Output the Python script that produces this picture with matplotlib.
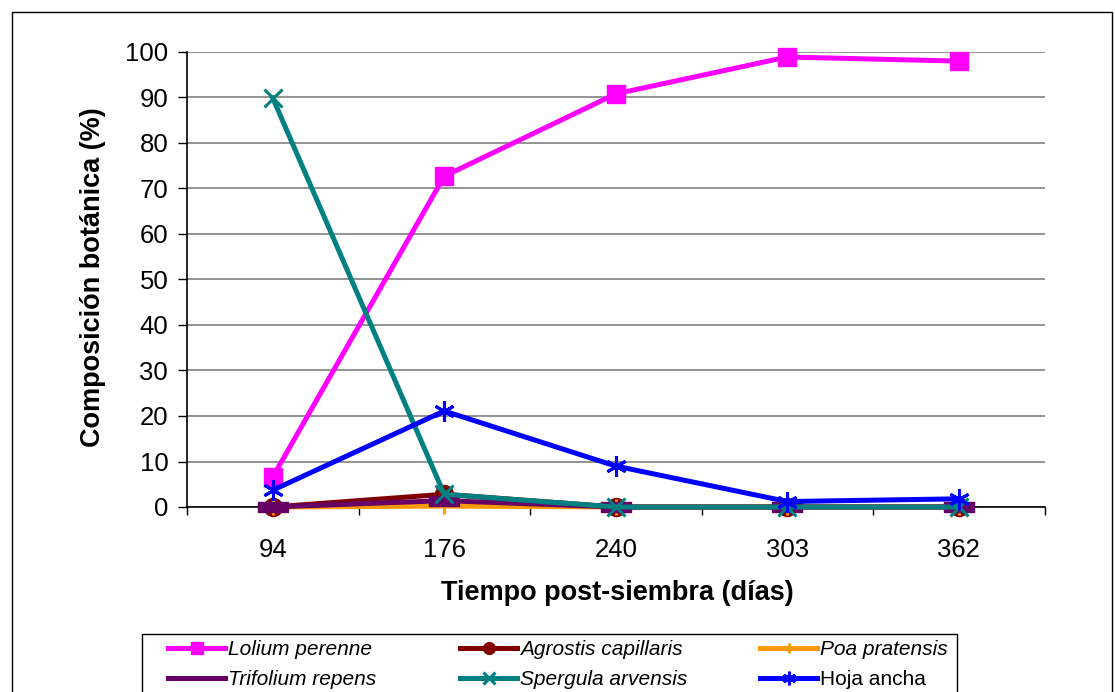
import matplotlib
matplotlib.use("Agg")
import matplotlib.pyplot as plt
from matplotlib.patches import Rectangle
from matplotlib.lines import Line2D
import numpy as np

plt.rcParams['font.family'] = ['Liberation Sans', 'DejaVu Sans']

categories = ["94", "176", "240", "303", "362"]
lolium = [6.6, 72.7, 90.8, 98.9, 98.0]
agrostis = [0.0, 2.8, 0.0, 0.0, 0.0]
poa = [0.0, 0.2, 0.0, 0.0, 0.0]
trifolium = [0.0, 1.4, 0.0, 0.0, 0.0]
spergula = [89.9, 2.8, 0.0, 0.0, 0.0]
hoja = [3.7, 21.1, 9.0, 1.2, 1.8]

W, H = 1115, 692
fig = plt.figure(figsize=(W/100, H/100), dpi=100)
ax = fig.add_axes([187/W, 1-507/H, (1044.5-187)/W, (507-52)/H])

x = np.arange(len(categories))
lw = 3.6
rect = [(-1, -0.3), (1, -0.3), (1, 0.3), (-1, 0.3), (-1, -0.3)]

common = dict(lw=lw, zorder=3, clip_on=False)
h_lol, = ax.plot(x, lolium, color='#FF00FF', marker='s', ms=13, label='Lolium perenne', **common)
h_agr, = ax.plot(x, agrostis, color='#800000', marker='o', ms=13, label='Agrostis capillaris', **common)
h_poa, = ax.plot(x, poa, color='#FF9900', marker='+', ms=11, mew=2, label='Poa pratensis', **common)
h_tri, = ax.plot(x, trifolium, color='#660066', marker=rect, ms=22, label='Trifolium repens', **common)
h_spe, = ax.plot(x, spergula, color='#008080', marker='x', ms=13, mew=2.2, label='Spergula arvensis', **common)
h_hoj, = ax.plot(x, hoja, color='#0000FF', marker=(6, 2, 0), ms=15, mew=2.2, label='Hoja ancha', **common)

ax.set_xlim(-0.5, len(categories)-0.5)
ax.set_ylim(0, 100)
ax.set_yticks(np.arange(0, 101, 10))
ax.set_xticks(x)
ax.set_xticklabels(categories)
ax.set_xticks(np.arange(-0.5, len(categories), 1), minor=True)
ax.tick_params(axis='x', which='major', length=0, pad=22, labelsize=18.5)
ax.tick_params(axis='x', which='minor', length=5.5, width=1, color='black', direction='out')
ax.tick_params(axis='y', length=6.5, width=1, color='black', direction='out', pad=7, labelsize=18.5)

ax.grid(axis='y', color='#808080', lw=1.2, zorder=0)
ax.set_axisbelow(True)
for s in ['top', 'right']:
    ax.spines[s].set_visible(False)
ax.spines['left'].set_color('black')
ax.spines['bottom'].set_color('black')
ax.spines['left'].set_linewidth(1.2)
ax.spines['bottom'].set_linewidth(1.2)

fig.text(93/W, 1-277/H, 'Composición botánica (%)', rotation=90, ha='center', va='center',
         fontsize=19.5, fontweight='bold')
fig.text(617/W, 1-593/H, 'Tiempo post-siembra (días)', ha='center', va='center',
         fontsize=19.5, fontweight='bold')

tri_proxy = Line2D([], [], color='#660066', lw=lw, label='Trifolium repens')
columns = [([h_lol, tri_proxy], 168), ([h_agr, h_spe], 460), ([h_poa, h_hoj], 760)]
for hs, x0 in columns:
    leg = fig.legend(handles=hs, loc='upper left', ncol=1,
                     bbox_to_anchor=(x0/W, 1-640/H), frameon=False, fontsize=15,
                     handlelength=2.75, handletextpad=0.15, borderpad=0, labelspacing=0.52,
                     borderaxespad=0, markerscale=0.65)
    for t in leg.get_texts():
        if t.get_text() != 'Hoja ancha':
            t.set_fontstyle('italic')

fig.patches.append(Rectangle((142/W, -0.01), (957-142)/W, 1-634/H+0.01, transform=fig.transFigure,
                             fill=False, edgecolor='black', lw=1.0))
fig.patches.append(Rectangle((12/W, -0.01), (1112-12)/W, 1-12/H+0.01, transform=fig.transFigure,
                             fill=False, edgecolor='black', lw=1.0))

fig.savefig('out.png', dpi=100)
